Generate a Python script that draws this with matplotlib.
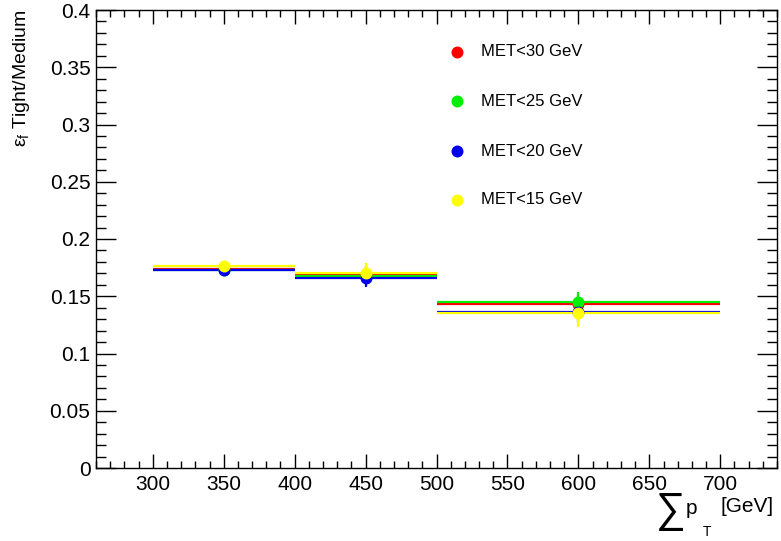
import matplotlib
matplotlib.use("Agg")
import matplotlib.pyplot as plt
from matplotlib.lines import Line2D
from matplotlib.ticker import MultipleLocator

plt.rcParams['font.family'] = ['Liberation Sans', 'DejaVu Sans']
plt.rcParams['mathtext.fontset'] = 'custom'
plt.rcParams['mathtext.rm'] = 'Liberation Sans'
plt.rcParams['mathtext.it'] = 'Liberation Sans'

bin_edges = [300, 400, 500, 700]
bin_centers = [350, 450, 600]
labels = ["MET<30 GeV", "MET<25 GeV", "MET<20 GeV", "MET<15 GeV"]
colors = ["#ff0000", "#00ee00", "#0000ee", "#ffff00"]

eff_met30 = [0.1735, 0.1686, 0.1432]
eff_met25 = [0.1725, 0.1680, 0.1447]
eff_met20 = [0.1730, 0.1662, 0.1365]
eff_met15 = [0.1765, 0.1704, 0.1354]
err_met30 = [0.004, 0.008, 0.008]
err_met25 = [0.004, 0.008, 0.009]
err_met20 = [0.004, 0.008, 0.009]
err_met15 = [0.004, 0.009, 0.012]

series = [eff_met30, eff_met25, eff_met20, eff_met15]
errors = [err_met30, err_met25, err_met20, err_met15]

W, H = 781, 541
fig = plt.figure(figsize=(W / 100, H / 100), dpi=100)
ax = fig.add_axes([96 / W, (H - 468) / H, (777 - 96) / W, (468 - 10) / H])

xerr_lo = [c - lo for c, lo in zip(bin_centers, bin_edges[:-1])]
xerr_hi = [hi - c for c, hi in zip(bin_centers, bin_edges[1:])]

for vals, errs, col in zip(series, errors, colors):
    ax.errorbar(bin_centers, vals, xerr=[xerr_lo, xerr_hi], yerr=errs,
                fmt='o', color=col, ecolor=col, elinewidth=1.6, capsize=0,
                markersize=8.6, markeredgewidth=0)

ax.set_xlim(260, 740)
ax.set_ylim(0, 0.4)
ax.xaxis.set_minor_locator(MultipleLocator(10))
ax.yaxis.set_minor_locator(MultipleLocator(0.01))
ax.set_yticks([0, 0.05, 0.1, 0.15, 0.2, 0.25, 0.3, 0.35, 0.4])
ax.set_yticklabels(["0", "0.05", "0.1", "0.15", "0.2", "0.25", "0.3", "0.35", "0.4"])
ax.set_xticks([300, 350, 400, 450, 500, 550, 600, 650, 700])
ax.tick_params(which='both', direction='in', top=True, right=True, labelsize=15, width=1)
ax.tick_params(axis='x', which='major', length=10, pad=5)
ax.tick_params(axis='x', which='minor', length=5)
ax.tick_params(axis='y', which='major', length=14.4, pad=4)
ax.tick_params(axis='y', which='minor', length=7.2)
for sp in ax.spines.values():
    sp.set_linewidth(1)

# legend drawn in figure pixel positions
leg_rows_px = [52, 101, 151, 200]
for col, lab, ypx in zip(colors, labels, leg_rows_px):
    fig.add_artist(Line2D([456.5 / W], [(H - ypx) / H], marker='o', color=col,
                          markersize=8.6, markeredgewidth=0, linestyle='none'))
    fig.text(481 / W, (H - ypx) / H, lab, fontsize=12, ha='left', va='center')

fig.text(22 / W, 1 - 10 / H, r"$\epsilon_{\mathrm{f}}$ Tight/Medium", rotation=90,
         ha='center', va='top', fontsize=14)
fig.text(655 / W, (H - 512) / H, r"$\sum$", fontsize=30, ha='left', va='center')
fig.text(686 / W, (H - 508) / H, "p", fontsize=15, ha='left', va='center')
fig.text(703 / W, (H - 532) / H, "T", fontsize=10, ha='left', va='center')
fig.text(721 / W, (H - 507) / H, "[GeV]", fontsize=15, ha='left', va='center')

fig.savefig("out.png", dpi=100)
